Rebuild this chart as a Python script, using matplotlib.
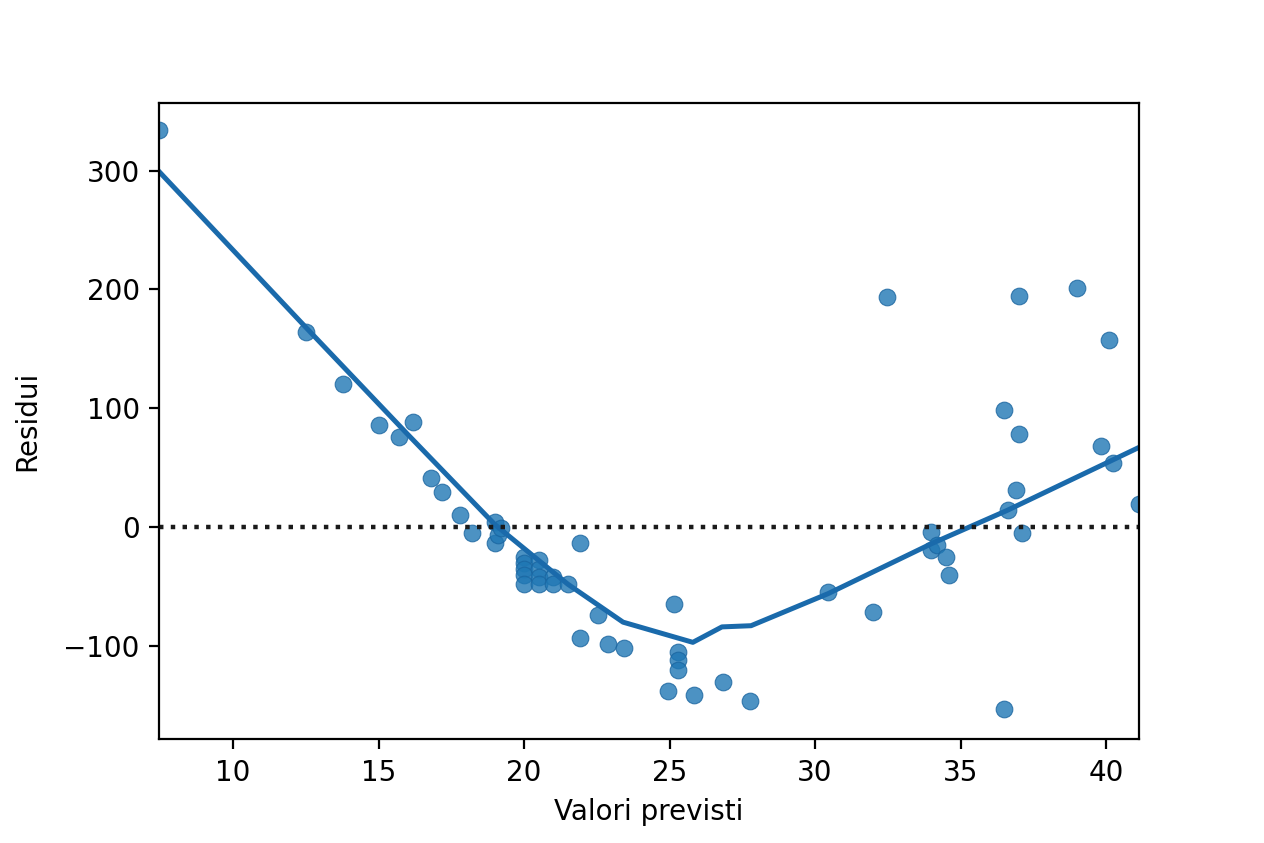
import numpy as np
import matplotlib
matplotlib.use("Agg")
import matplotlib.pyplot as plt

# valori previsti e residui
previsti = [7.46, 12.51, 13.78, 15.0, 15.7, 16.19, 16.8, 17.18, 17.8, 18.2,
            19.0, 19.0, 19.1, 19.2,
            20.0, 20.0, 20.0, 20.0, 20.0, 20.5, 20.5, 20.5, 20.5, 21.0, 21.0, 21.5,
            21.92, 21.92, 22.54, 22.9, 23.44, 24.95, 25.15, 25.3, 25.3, 25.3,
            25.84, 26.84, 27.77, 30.45, 32.0, 32.47,
            33.99, 33.99, 34.2, 34.5, 34.6,
            36.5, 36.5, 36.63, 36.9, 37.0, 37.0, 37.1,
            39.0, 39.83, 40.1, 40.24, 41.13]
residui = [334.5, 164, 120.5, 86, 76, 88.5, 41, 29.5, 10, -5,
           4, -13, -7, -1,
           -25, -30, -35, -40, -48, -28, -35, -42, -48, -42, -48, -48,
           -13, -93.5, -74, -98.5, -102, -138, -65, -105, -112, -120,
           -141, -130.5, -146, -55, -71.6, 194,
           -4, -19, -15, -25, -40,
           98.5, -153, 14, 31, 78, 194.6, -5,
           201, 68, 157.5, 54, 19]

# curva lowess
lowess_x = [7.46, 12.5, 16.0, 19.0, 20.0, 21.5, 23.4, 25.8, 26.8, 27.8, 30.45, 34.0, 36.6, 41.13]
lowess_y = [299, 168, 78, 2, -18, -48, -80, -97, -84, -83, -56, -14, 14, 67]

fig, ax = plt.subplots(figsize=(6.32, 4.215), dpi=200)
fig.subplots_adjust(left=0.126, right=0.901, top=0.878, bottom=0.123)

ax.scatter(previsti, residui, color="C0", alpha=0.8, s=36,
           edgecolors="#1a65a0", linewidths=0.4)
ax.plot(lowess_x, lowess_y, color="#1a6aab", lw=1.8)
ax.axhline(0, ls=":", c=".1", lw=1.6)

ax.set_xlim(min(previsti), max(previsti))
ax.set_ylim(-178.6, 357)
ax.set_xlabel("Valori previsti")
ax.set_ylabel("Residui", labelpad=8)

plt.savefig("out.png")
